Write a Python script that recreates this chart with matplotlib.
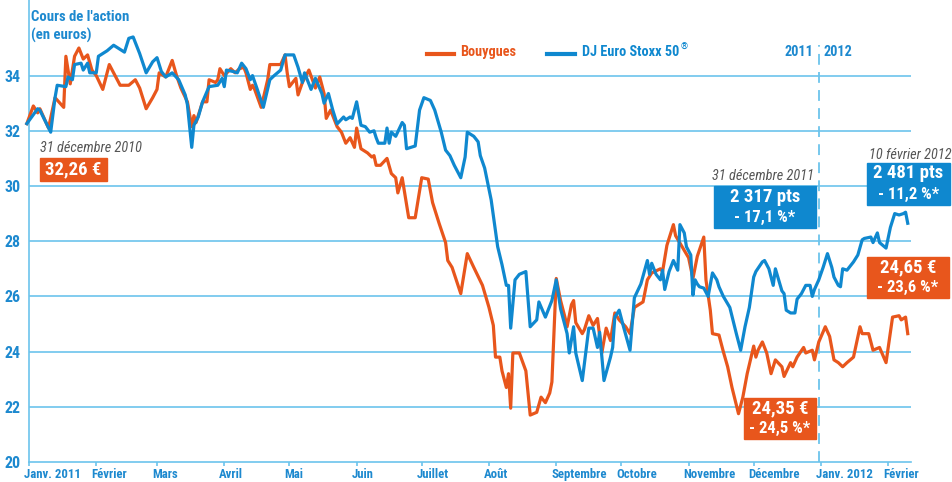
import numpy as np
import matplotlib
matplotlib.use("Agg")
import matplotlib.pyplot as plt
import matplotlib.dates as mdates
from matplotlib.patches import Rectangle
from matplotlib import font_manager as fm

# ---------------- data ----------------
# days counted from 1 January 2011
bouygues_days = [-1, 2, 4, 5, 9, 12, 16, 17, 19, 21, 23, 25, 27, 29, 31, 34, 37, 42, 46, 49,
                 51, 54, 57, 59, 60, 63, 66, 68, 70, 73, 75, 76, 77, 80, 82, 83, 86, 87, 88, 90,
                 93, 95, 97, 99, 100, 102, 103, 104, 107, 110, 111, 116, 118, 119, 120, 123, 124, 126, 129, 132,
                 134, 136, 137, 139, 142, 144, 146, 148, 150, 151, 153, 156, 158, 159, 160, 162, 165, 167, 169, 170,
                 172, 175, 178, 181, 184, 186, 189, 192, 193, 195, 199, 202, 205, 209, 212, 214, 215, 217, 218, 220,
                 221, 222, 223, 226, 229, 231, 234, 236, 238, 240, 241, 243, 245, 247, 248, 250, 251, 252, 255, 256,
                 258, 260, 262, 264, 266, 268, 270, 272, 275, 277, 279, 283, 285, 287, 291, 292, 294, 297, 298, 301,
                 304, 306, 308, 311, 312, 314, 315, 318, 320, 322, 324, 327, 329, 331, 334, 335, 336, 338, 340, 342,
                 344, 347, 348, 351, 352, 354, 357, 358, 361, 362, 364, 367, 369, 371, 373, 375, 377, 380, 383, 384,
                 387, 389, 392, 395, 398, 401, 402, 404, 405]
bouygues_values = [32.26, 32.9, 32.65, 32.8, 32.1, 33.2, 32.85, 34.7, 33.7, 34.7, 35.0, 34.6, 34.75, 34.2, 34.0, 33.5, 34.4, 33.65, 33.65, 33.85,
                   33.55, 32.8, 33.2, 33.5, 34.1, 33.95, 34.55, 34.0, 33.55, 33.05, 32.15, 32.55, 32.3, 33.05, 33.05, 33.85, 33.75, 33.85, 34.25, 34.0,
                   34.25, 34.1, 34.25, 34.3, 34.1, 33.5, 33.65, 33.5, 32.85, 33.85, 34.4, 34.4, 34.75, 34.1, 33.6, 33.9, 33.3, 33.75, 34.2, 33.55,
                   33.95, 33.35, 32.45, 32.75, 32.15, 31.95, 31.55, 31.75, 31.4, 32.1, 31.35, 31.2, 31.05, 31.1, 30.75, 30.75, 31.0, 30.45, 30.3, 29.75,
                   30.3, 28.85, 28.85, 30.3, 30.25, 29.4, 28.65, 27.95, 27.3, 27.05, 26.1, 27.55, 27.05, 26.4, 25.6, 24.95, 23.8, 23.8, 23.3, 22.7,
                   23.2, 21.95, 23.95, 23.95, 23.3, 21.7, 21.8, 22.35, 22.15, 22.5, 22.9, 26.65, 25.85, 25.25, 24.9, 25.7, 25.85, 25.05, 24.65, 24.8,
                   25.3, 24.95, 25.2, 23.95, 24.85, 24.4, 25.4, 25.15, 24.9, 24.65, 25.6, 25.8, 26.6, 26.85, 27.0, 26.9, 27.85, 28.6, 28.2, 27.8,
                   27.4, 26.65, 27.45, 28.15, 26.6, 25.5, 24.65, 24.6, 24.0, 23.45, 22.7, 21.75, 22.35, 23.2, 24.2, 23.8, 24.05, 24.35, 23.95, 23.2,
                   23.7, 23.45, 23.1, 23.6, 23.45, 23.8, 24.15, 23.95, 24.05, 23.7, 24.35, 24.9, 24.55, 23.7, 23.6, 23.45, 23.6, 23.8, 24.9, 24.65,
                   24.65, 24.05, 24.15, 23.6, 25.25, 25.3, 25.15, 25.25, 24.65]

# DJ Euro Stoxx 50, rebased on the Bouygues price at 31/12/2010
stoxx_days = [-1, 4, 5, 10, 12, 13, 17, 18, 20, 21, 24, 25, 27, 28, 31, 32, 33, 36, 39, 44,
              46, 48, 51, 54, 57, 59, 61, 63, 66, 69, 72, 73, 75, 76, 78, 80, 83, 87, 89, 90,
              91, 94, 96, 98, 100, 102, 103, 105, 108, 111, 113, 116, 118, 122, 124, 126, 127, 130, 132, 135,
              136, 138, 140, 142, 145, 146, 148, 149, 151, 153, 155, 157, 159, 160, 161, 164, 165, 166, 167, 169,
              172, 173, 174, 178, 180, 182, 185, 187, 190, 192, 194, 196, 199, 201, 202, 205, 207, 208, 210, 213,
              216, 218, 220, 221, 222, 224, 226, 229, 231, 234, 235, 238, 241, 243, 245, 248, 249, 251, 252, 255,
              258, 260, 262, 263, 265, 268, 269, 270, 272, 274, 277, 279, 282, 285, 286, 287, 289, 291, 292, 293,
              295, 297, 299, 300, 302, 303, 305, 306, 307, 308, 309, 311, 313, 315, 317, 318, 320, 323, 326, 328,
              330, 332, 334, 335, 338, 339, 341, 343, 344, 347, 348, 349, 351, 353, 354, 356, 358, 360, 361, 362,
              364, 366, 368, 370, 371, 373, 374, 375, 377, 378, 380, 382, 384, 385, 388, 389, 391, 392, 395, 397,
              399, 401, 403, 404, 405]
stoxx_values = [32.26, 32.8, 32.75, 31.95, 33.2, 33.65, 33.6, 33.95, 33.85, 34.4, 34.45, 34.2, 34.45, 34.1, 34.1, 34.7, 34.75, 34.9, 35.1, 34.85,
                35.35, 35.4, 34.8, 34.1, 34.5, 34.65, 34.15, 33.95, 34.1, 33.85, 33.3, 32.95, 31.4, 32.2, 32.5, 33.05, 33.6, 33.65, 33.9, 33.6,
                34.2, 34.15, 34.1, 34.45, 34.25, 33.85, 34.0, 33.55, 32.85, 33.85, 34.0, 34.2, 34.75, 34.75, 34.3, 33.75, 34.1, 33.5, 33.9, 33.35,
                33.0, 33.35, 32.75, 32.25, 32.5, 32.4, 32.5, 32.45, 33.05, 32.2, 32.15, 31.95, 32.0, 31.75, 31.55, 31.55, 32.1, 31.55, 31.95, 31.8,
                32.3, 32.2, 31.35, 31.45, 32.75, 33.2, 33.1, 32.75, 31.95, 31.3, 31.1, 30.75, 30.3, 31.05, 31.95, 31.8, 31.6, 31.1, 30.65, 29.5,
                27.8, 27.15, 26.4, 26.4, 24.85, 26.6, 26.8, 26.9, 24.9, 25.15, 25.8, 25.25, 25.85, 26.6, 25.55, 24.65, 23.95, 24.9, 23.95, 22.95,
                24.85, 24.85, 24.15, 24.7, 22.95, 23.8, 24.15, 25.25, 25.5, 24.9, 24.05, 25.95, 26.45, 27.3, 26.8, 27.2, 26.8, 26.6, 26.95, 26.25,
                26.9, 27.3, 26.95, 28.6, 28.3, 27.8, 27.5, 26.05, 26.6, 26.45, 26.35, 26.3, 26.0, 26.85, 26.6, 26.35, 26.0, 25.6, 24.65, 24.05,
                24.9, 25.6, 26.7, 26.9, 27.25, 27.3, 27.0, 26.4, 27.0, 26.2, 26.1, 25.5, 25.4, 25.4, 25.9, 26.1, 26.4, 26.4, 26.0, 26.25,
                26.6, 27.05, 27.55, 27.05, 26.7, 26.4, 26.35, 27.0, 26.95, 27.05, 27.25, 27.5, 28.05, 28.1, 28.15, 27.95, 28.3, 27.95, 27.75, 28.5,
                29.0, 28.95, 29.0, 29.05, 28.65]

month_starts = ["2011-01-01", "2011-02-01", "2011-03-01", "2011-04-01", "2011-05-01", "2011-06-01",
                "2011-07-01", "2011-08-01", "2011-09-01", "2011-10-01", "2011-11-01", "2011-12-01",
                "2012-01-01", "2012-02-01"]
month_labels = ["Janv. 2011", "Février", "Mars", "Avril", "Mai", "Juin", "Juillet", "Août",
                "Septembre", "Octobre", "Novembre", "Décembre", "Janv. 2012", "Février"]
y_ticks = [20, 22, 24, 26, 28, 30, 32, 34]

# ---------------- style ----------------
ORANGE = "#e8561c"
BLUE = "#0f88cf"
GRID = "#6cc4ec"
TEXT_BLUE = "#1d89cf"

names = {f.name for f in fm.fontManager.ttflist}
FONT = ["DejaVu Sans"]
STRETCH = "condensed"
for cand in ["Liberation Sans Narrow", "Roboto Condensed", "Open Sans Condensed", "Noto Sans Condensed"]:
    if cand in names:
        FONT = [cand, "DejaVu Sans"]
        break
plt.rcParams["font.family"] = FONT
plt.rcParams["font.stretch"] = STRETCH

W, H = 953, 482
fig = plt.figure(figsize=(W / 100, H / 100), dpi=100)
ax = fig.add_axes([29 / W, 20 / H, 882 / W, 462 / H])

base = np.datetime64("2011-01-01")
bx = base + np.array(bouygues_days, dtype="timedelta64[D]")
sx = base + np.array(stoxx_days, dtype="timedelta64[D]")

ax.plot(bx, bouygues_values, color=ORANGE, lw=2.3, solid_joinstyle="round", zorder=3, clip_on=False)
ax.plot(sx, stoxx_values, color=BLUE, lw=2.3, solid_joinstyle="round", zorder=4, clip_on=False)

x0 = mdates.date2num(base)
ax.set_xlim(x0, x0 + 406.5)
ax.set_ylim(20, 20 + 462 / 27.6)

for y in y_ticks[1:]:
    ax.axhline(y, color=GRID, lw=1.2, zorder=1)

for s in ["top", "right"]:
    ax.spines[s].set_visible(False)
for s in ["left", "bottom"]:
    ax.spines[s].set_color(GRID)
    ax.spines[s].set_linewidth(1.2)

ms = [mdates.date2num(np.datetime64(m)) for m in month_starts]
ax.set_xticks(ms)
ax.set_xticklabels([])
ax.tick_params(axis="x", direction="out", length=3, color=GRID, width=1.2)
TK = dict(fontweight="bold", color=TEXT_BLUE, fontstretch=STRETCH)
for m, lab in zip(ms, month_labels):
    ax.annotate(lab, xy=(m, 0), xycoords=("data", "axes fraction"), xytext=(-5, -6),
                textcoords="offset pixels", ha="left", va="top", fontsize=9.2, **TK)

ax.set_yticks(y_ticks)
ax.set_yticklabels([str(v) for v in y_ticks], fontsize=11.5, **TK)
ax.tick_params(axis="y", length=0, pad=6)

# dashed year separator
sep = mdates.date2num(np.datetime64("2011-12-31"))
ax.plot([sep, sep], [20, 20 + (462 - 45) / 27.6], color=GRID, lw=1.3, ls=(0, (6, 4)), zorder=2, clip_on=False)

def fx(px):
    return px / W

def fy(py):
    return 1 - py / H

fig.text(fx(31), fy(17), "Cours de l'action", fontsize=10.6, va="center", **TK)
fig.text(fx(31), fy(35), "(en euros)", fontsize=10.6, va="center", **TK)

fig.lines.append(plt.Line2D([fx(427), fx(454)], [fy(54), fy(54)], color=ORANGE, lw=3, transform=fig.transFigure))
fig.text(fx(460), fy(52), "Bouygues", fontsize=10.3, fontweight="bold", color=ORANGE, va="center", fontstretch=STRETCH)
fig.lines.append(plt.Line2D([fx(547), fx(575)], [fy(54), fy(54)], color=BLUE, lw=3, transform=fig.transFigure))
t_leg = fig.text(fx(582), fy(52), "DJ Euro Stoxx 50", fontsize=10.3, fontweight="bold", color=BLUE, va="center", fontstretch=STRETCH)
fig.canvas.draw()
ext = t_leg.get_window_extent()
fig.text((ext.x1 + 1.5) / W, fy(47), "\u00ae", fontsize=6.5, fontweight="bold", color=BLUE, va="center",
         ha="left", fontstretch=STRETCH)
fig.text(fx(785), fy(52), "2011", fontsize=10.3, va="center", **TK)
fig.text(fx(824), fy(52), "2012", fontsize=10.3, va="center", **TK)

def box(x0p, y0p, x1p, y1p, color, lines, sizes):
    fig.patches.append(Rectangle((fx(x0p), fy(y1p)), fx(x1p) - fx(x0p), fy(y0p) - fy(y1p),
                                 transform=fig.transFigure, color=color, zorder=5))
    n = len(lines)
    hgt = (y1p - y0p) / n
    for i, (t, s) in enumerate(zip(lines, sizes)):
        fig.text(fx((x0p + x1p) / 2), fy(y0p + hgt * (i + 0.5)), t, fontsize=s, fontweight="bold",
                 color="white", ha="center", va="center", zorder=6, fontstretch=STRETCH)

def date_note(xc, yc, t):
    fig.text(fx(xc), fy(yc), t, fontsize=10.3, style="italic", color="#555555", ha="center", va="center",
             fontstretch=STRETCH)

date_note(91, 148, "31 décembre 2010")
box(40, 158, 107, 181, ORANGE, ["32,26 €"], [13.5])

date_note(763, 176, "31 décembre 2011")
box(714, 186, 816, 228, BLUE, ["2 317 pts", "- 17,1 %*"], [13.5, 12])

date_note(910, 155, "10 février 2012")
box(867, 163, 950, 205, BLUE, ["2 481 pts", "- 11,2 %*"], [13.5, 12])

box(867, 257, 949, 298, ORANGE, ["24,65 €", "- 23,6 %*"], [13.5, 12])
box(744, 398, 816, 439, ORANGE, ["24,35 €", "- 24,5 %*"], [13.5, 12])

fig.savefig("out.png", dpi=100)
